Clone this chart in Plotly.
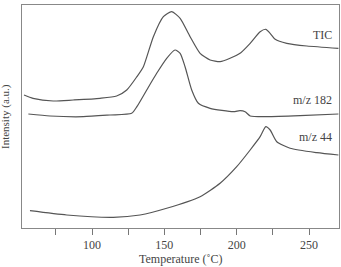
import plotly.graph_objects as go

# Temperature (°C) and intensity (arbitrary units)
tic_T = [53, 59.2, 73.2, 87, 105.5, 117, 124, 131, 135.5, 142.4, 149.3, 155.1, 160.9, 167.8,
         174.7, 181.6, 188.5, 195.4, 202.3, 209.3, 216.2, 220.1, 223.1, 226.6, 234.6, 248.5, 270.3]
tic_I = [133, 129.7, 127, 128, 129.7, 132, 138, 151.3, 161.3, 191.3, 211.3, 216.3, 209.7, 191.3,
         174.7, 168, 166.3, 169.7, 174.7, 184.7, 196.3, 198.7, 194.7, 188.7, 184.7, 182, 179.7]

m182_T = [56, 71, 94, 112.4, 127.4, 131, 137.8, 144.7, 151.6, 157.4, 160.9, 164.3, 168.9, 173.5,
          181.6, 197.7, 202.3, 205.8, 209.3, 220.8, 243.8, 270.3]
m182_I = [114, 112, 111.3, 113, 114.7, 121.3, 138, 154.7, 169.7, 178, 174.7, 161.3, 138, 124.7,
          119.7, 116.3, 117.3, 116.3, 112, 111.3, 112.3, 114]

m44_T = [57.1, 82.5, 114.7, 133.2, 151.6, 174.7, 188.5, 200, 209.3, 216.2, 220.1, 223.1, 227.7,
         236.9, 255.4, 270.3]
m44_I = [17.3, 13, 10.7, 13, 19.7, 31.3, 44.7, 61.3, 78, 91.3, 101.3, 98, 86.3, 79.7, 75.3, 73]

labels = ["TIC", "m/z 182", "m/z 44"]
label_y = [193, 128, 91]

line_col = "#555555"
font = "Liberation Serif, Times New Roman, serif"

fig = go.Figure()
for T, I in [(tic_T, tic_I), (m182_T, m182_I), (m44_T, m44_I)]:
    fig.add_trace(go.Scatter(x=T, y=I, mode="lines", line=dict(color=line_col, width=1.2, shape="spline", smoothing=0.6),
                             showlegend=False, hoverinfo="skip"))

for lab, ly in zip(labels, label_y):
    fig.add_annotation(x=267.5, y=ly, text=lab, showarrow=False, xanchor="right", yanchor="middle",
                       font=dict(family=font, size=12, color="#444"))

fig.add_annotation(xref="paper", yref="paper", x=0.5, y=-0.139, text="Temperature (˚C)", showarrow=False,
                   xanchor="center", yanchor="middle", font=dict(family=font, size=12, color="#444"))
fig.add_annotation(xref="paper", yref="paper", x=-0.052, y=0.5, text="Intensity (a.u.)", showarrow=False,
                   textangle=-90, xanchor="center", yanchor="middle", font=dict(family=font, size=11, color="#444"))

fig.update_xaxes(range=[51.6, 270.7], tickmode="array", tickvals=[100, 150, 200, 250],
                 ticks="outside", ticklen=6, tickcolor="#777", showgrid=False, zeroline=False,
                 showline=True, linecolor="#888", linewidth=1, mirror=True,
                 minor=dict(tickvals=[75, 125, 175, 225], ticks="outside", ticklen=6, tickcolor="#777"),
                 tickfont=dict(family=font, size=12, color="#444"))
fig.update_yaxes(range=[0, 223], showticklabels=False, ticks="", showgrid=False, zeroline=False,
                 showline=True, linecolor="#888", linewidth=1, mirror=True)

fig.update_layout(width=341, height=267, margin=dict(l=22, r=2, t=5, b=39),
                  plot_bgcolor="white", paper_bgcolor="white")
fig.write_html("out.html")
